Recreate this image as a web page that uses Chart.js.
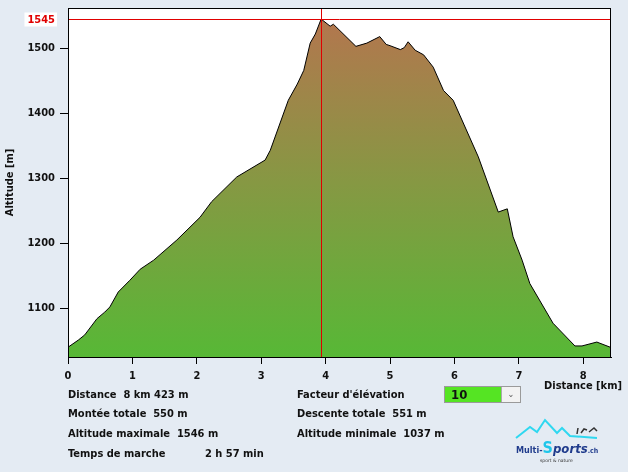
<!DOCTYPE html>
<html>
<head>
<meta charset="utf-8">
<script src="https://cdn.jsdelivr.net/npm/chart.js@4.4.1/dist/chart.umd.min.js"></script>
<style>
  body { margin: 0; background: #e4ebf3; font-family: "DejaVu Sans Condensed", "DejaVu Sans", sans-serif; }
  #wrap { position: relative; width: 628px; height: 472px; overflow: hidden; }
  #c { position: absolute; left: 0; top: 0; }
  .info { position: absolute; font-size: 11px; font-weight: bold; color: #111; white-space: pre; }
  #sel { position: absolute; left: 444px; top: 386px; width: 77px; height: 17px; background: #55e423; border: 1px solid #9a9a9a; box-sizing: border-box; }
  #sel span { position: absolute; left: 6px; top: 0px; font-size: 13px; font-weight: bold; color: #111; }
  #sel .btn { position: absolute; right: 0; top: 0; width: 18px; height: 15px; background: #f2f2f2; border-left: 1px solid #aaa; font-size: 9px; text-align: center; line-height: 15px; color: #555; }
  #logo { position: absolute; left: 510px; top: 414px; }
</style>
</head>
<body>
<div id="wrap">
  <canvas id="c" width="628" height="472"></canvas>
  <div class="info" style="left:68px;top:388px">Distance  8 km 423 m</div>
  <div class="info" style="left:68px;top:407px">Montée totale  550 m</div>
  <div class="info" style="left:68px;top:427px">Altitude maximale  1546 m</div>
  <div class="info" style="left:68px;top:447px">Temps de marche</div>
  <div class="info" style="left:205px;top:447px">2 h 57 min</div>
  <div class="info" style="left:297px;top:388px">Facteur d'élévation</div>
  <div class="info" style="left:297px;top:407px">Descente totale  551 m</div>
  <div class="info" style="left:297px;top:427px">Altitude minimale  1037 m</div>
  <div id="sel"><span>10</span><div class="btn">&#8964;</div></div>
  <svg id="logo" width="100" height="52" viewBox="0 0 100 52">
    <polyline points="6,24 20,13 27,18 35,6 47,19 52,14 60,22 87,24" fill="none" stroke="#2fd8f0" stroke-width="2"/>
    <text x="6" y="39" font-family="DejaVu Sans Condensed" font-weight="bold" font-size="9" fill="#1f3b8c">Multi-<tspan fill="#1fc6ea" font-size="16">S</tspan><tspan font-style="italic" font-size="13">ports</tspan><tspan font-size="7">.ch</tspan></text>
    <text x="30" y="48" font-family="DejaVu Sans" font-size="4.5" fill="#333">sport &amp; nature</text>
    <path d="M67,20 l1,-6 M71,19 l3,-4 l3,1 M79,18 l5,-4 l3,3" stroke="#333" stroke-width="1.5" fill="none"/>
  </svg>
</div>
<script>
// profile: distance in km, altitude in m
const distKm = [0.00, 0.16, 0.26, 0.45, 0.57, 0.65, 0.78, 0.96, 1.12, 1.33, 1.69, 2.05, 2.23, 2.62, 3.06, 3.14,
  3.42, 3.56, 3.66, 3.76, 3.84, 3.93, 4.07, 4.12, 4.47, 4.64, 4.84, 4.94, 5.00, 5.16, 5.22, 5.28, 5.39, 5.52,
  5.67, 5.83, 5.98, 6.37, 6.68, 6.82, 6.91, 7.05, 7.17, 7.53, 7.87, 7.98, 8.21, 8.42];
const altM = [1040, 1051, 1059, 1084, 1094, 1102, 1125, 1143, 1160, 1174, 1205, 1240, 1264, 1302, 1328, 1343,
  1420, 1445, 1466, 1508, 1522, 1545, 1534, 1537, 1503, 1508, 1518, 1506, 1504, 1498, 1501, 1510, 1497, 1490,
  1471, 1435, 1420, 1333, 1248, 1253, 1210, 1174, 1138, 1077, 1042, 1042, 1048, 1040];
const xTicks = [0, 1, 2, 3, 4, 5, 6, 7, 8];
const yTicks = [1100, 1200, 1300, 1400, 1500];
const peakKm = 3.93;
const peakAlt = 1545;

const FONT = '"DejaVu Sans Condensed", "DejaVu Sans"';
const tickFont = { family: FONT, size: 11, weight: 'bold' };

const frame = {
  id: 'frame',
  beforeDraw(chart) {
    const { ctx, chartArea: a } = chart;
    ctx.save();
    ctx.fillStyle = '#ffffff';
    ctx.fillRect(a.left, a.top, a.right - a.left, a.bottom - a.top);
    ctx.restore();
  },
  afterDraw(chart) {
    const { ctx, chartArea: a, scales } = chart;
    const px = Math.round(scales.x.getPixelForValue(peakKm)) + 0.5;
    const py = Math.round(scales.y.getPixelForValue(peakAlt)) + 0.5;
    ctx.save();
    ctx.strokeStyle = '#e00000';
    ctx.lineWidth = 1;
    ctx.beginPath();
    ctx.moveTo(a.left, py); ctx.lineTo(a.right, py);
    ctx.moveTo(px, a.top); ctx.lineTo(px, a.bottom);
    ctx.stroke();
    ctx.strokeStyle = '#000';
    ctx.strokeRect(a.left + 0.5, a.top + 0.5, a.right - a.left - 1, a.bottom - a.top);
    // peak label
    ctx.font = 'bold 11px ' + FONT;
    const w = ctx.measureText(String(peakAlt)).width;
    ctx.fillStyle = '#ffffff';
    ctx.fillRect(a.left - 13 - w - 3, py - 7, w + 5, 14);
    ctx.fillStyle = '#e00000';
    ctx.textAlign = 'right';
    ctx.textBaseline = 'middle';
    ctx.fillText(String(peakAlt), a.left - 13, py + 1);
    // x axis title
    ctx.fillStyle = '#111';
    ctx.fillText('Distance [km]', 622, 386);
    ctx.restore();
  }
};

new Chart(document.getElementById('c'), {
  type: 'line',
  data: {
    datasets: [{
      data: distKm.map((d, i) => ({ x: d, y: altM[i] })),
      borderColor: '#000',
      borderWidth: 1,
      pointRadius: 0,
      tension: 0,
      fill: 'start',
      backgroundColor(c) {
        const a = c.chart.chartArea;
        if (!a) return '#7a9a45';
        const g = c.chart.ctx.createLinearGradient(0, a.top, 0, a.bottom);
        g.addColorStop(0, '#b6744f');
        g.addColorStop(0.5, '#869843');
        g.addColorStop(1, '#57b836');
        return g;
      }
    }]
  },
  options: {
    responsive: false,
    animation: false,
    devicePixelRatio: 1,
    layout: { padding: { top: 8, right: 17, left: 0, bottom: 0 } },
    plugins: { legend: { display: false }, tooltip: { enabled: false } },
    scales: {
      x: {
        type: 'linear',
        min: 0,
        max: 8.43,
        afterFit(s) { s.height = 115; s.paddingLeft = 0; s.paddingRight = 0; },
        afterBuildTicks(s) { s.ticks = xTicks.map(v => ({ value: v })); },
        grid: { drawOnChartArea: false, tickLength: 7, color: '#000' },
        border: { color: '#000' },
        ticks: { font: tickFont, color: '#111', padding: 6, maxRotation: 0, autoSkip: false }
      },
      y: {
        min: 1025,
        max: 1562,
        afterFit(s) { s.width = 68; s.paddingTop = 0; s.paddingBottom = 0; },
        afterBuildTicks(s) { s.ticks = yTicks.map(v => ({ value: v })); },
        grid: { drawOnChartArea: false, tickLength: 8, color: '#000' },
        border: { color: '#000' },
        ticks: { font: tickFont, color: '#111', padding: 5, callback: v => String(v) },
        title: { display: true, text: 'Altitude [m]', font: tickFont, color: '#111', padding: { top: 4, bottom: 0 } }
      }
    }
  },
  plugins: [frame]
});
</script>
</body>
</html>
